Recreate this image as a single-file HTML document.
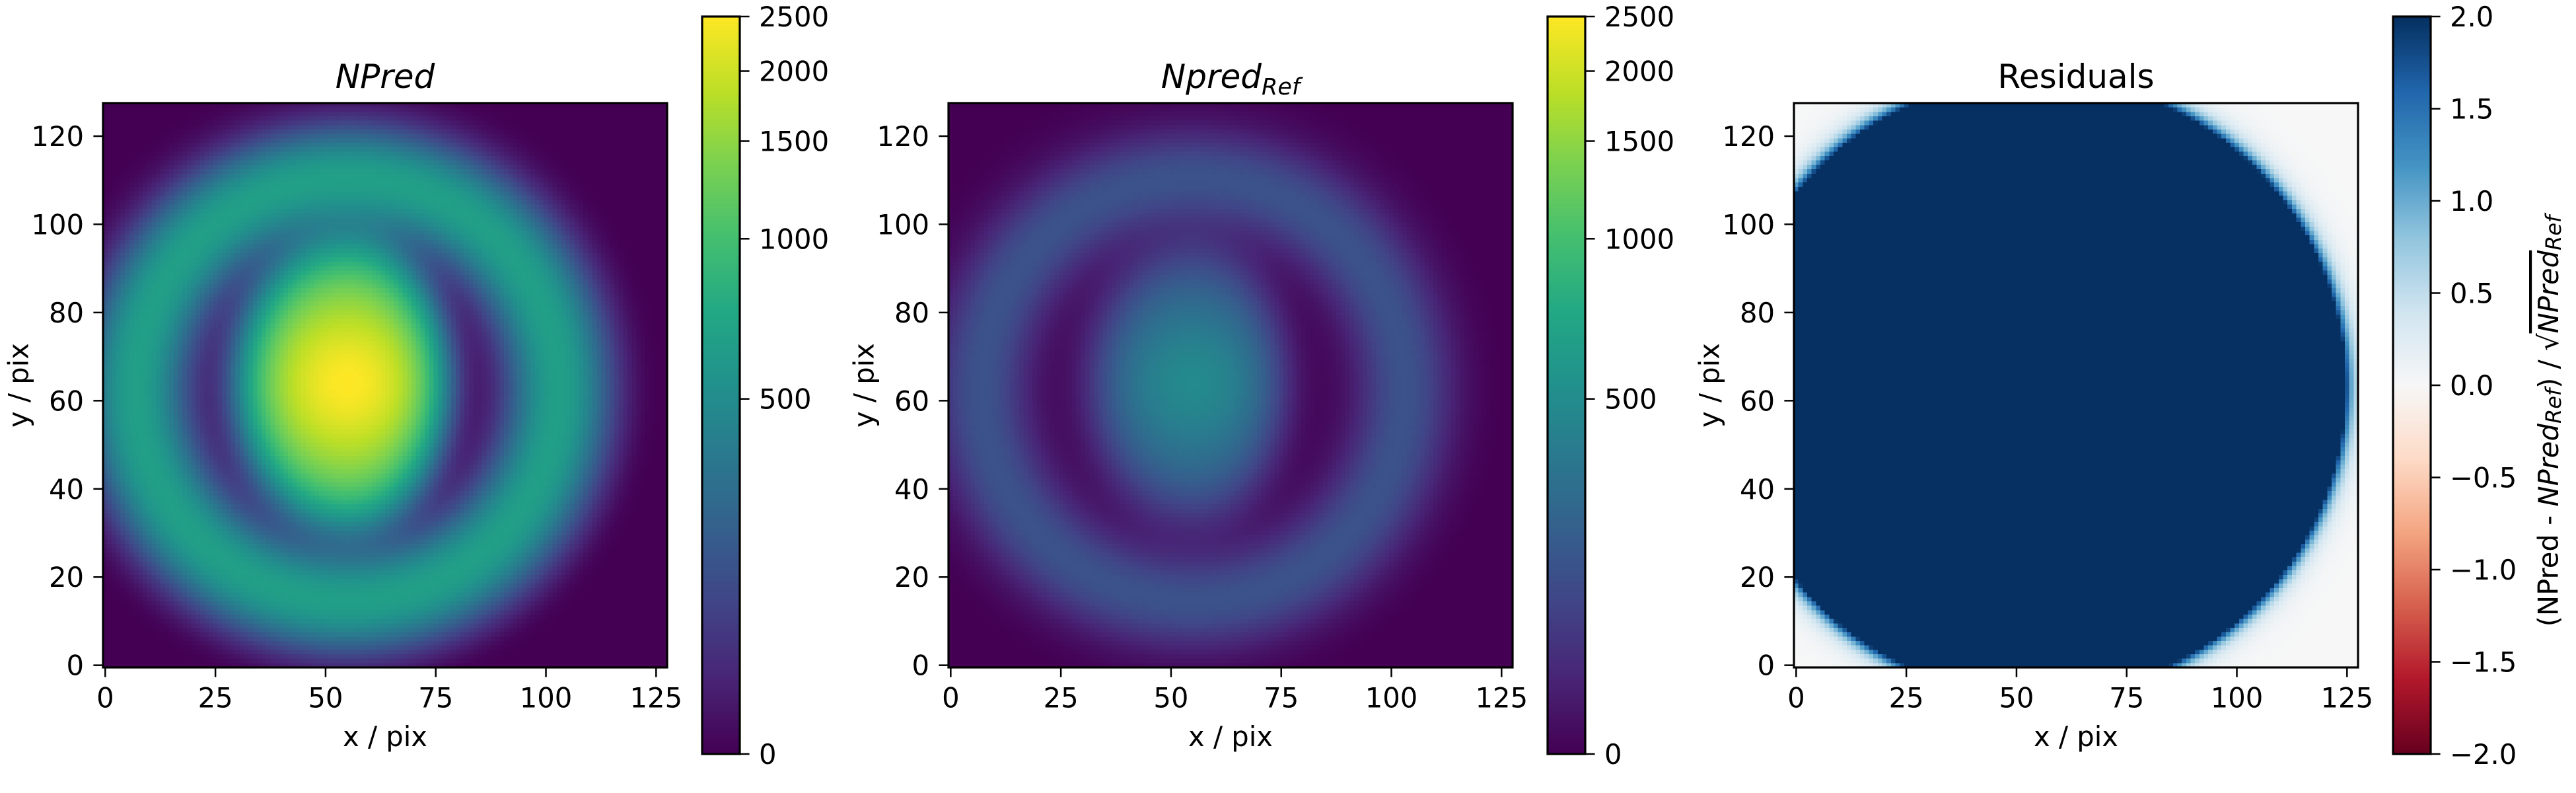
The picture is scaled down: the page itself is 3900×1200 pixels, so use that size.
<!DOCTYPE html>
<html><head><meta charset="utf-8">
<style>
html,body{margin:0;padding:0;background:#fff;}
#root{position:relative;width:3900px;height:1200px;overflow:hidden;font-family:"DejaVu Sans","Liberation Sans",sans-serif;}
canvas{position:absolute;image-rendering:pixelated;}
svg{position:absolute;left:0;top:0;}
</style></head>
<body>
<div id="root">
<canvas id="img1" width="128" height="128" style="left:156px;top:156px;width:854px;height:854px"></canvas>
<canvas id="img2" width="128" height="128" style="left:1436px;top:156px;width:854px;height:854px"></canvas>
<canvas id="img3" width="128" height="128" style="left:2716px;top:156px;width:854px;height:854px"></canvas>
<canvas id="cb1" width="1" height="512" style="left:1063px;top:25px;width:57px;height:1116px;image-rendering:auto"></canvas>
<canvas id="cb2" width="1" height="512" style="left:2343px;top:25px;width:57px;height:1116px;image-rendering:auto"></canvas>
<canvas id="cb3" width="1" height="512" style="left:3623px;top:25px;width:57px;height:1116px;image-rendering:auto"></canvas>
<svg id="ov" width="3900" height="1200" xmlns="http://www.w3.org/2000/svg"></svg>
</div>
<script>
// ---- data (model component parameters) ----
const gridSize = 128;
const componentNames = ['core-plateau', 'core-peak', 'ring', 'halo'];
const npredAmplitudes = [1600, 900, 640, 15];
const npredRefAmplitudes = [330, 150, 205, 4];
const componentCenterX = [55, 55, 55, 54.5];
const componentCenterY = [64, 64, 62.5, 63.5];
const coreScaleLeftRight = [19, 17];
const coreScaleY = [25];
const corePeakSigma = [9];
const ringRadiusWidth = [48, 7.5];
const haloSigma = [40];
const maskRadius = [68.5];
const viridisNormMax = [2500];
const residualRange = [-2, 2];
const xTickValues = [0, 25, 50, 75, 100, 125];
const yTickValues = [0, 20, 40, 60, 80, 100, 120];
const cbViridisTicks = [0, 500, 1000, 1500, 2000, 2500];
const cbResidualTicks = [-2, -1.5, -1, -0.5, 0, 0.5, 1, 1.5, 2];
const cbResidualLabels = ['\u22122.0','\u22121.5','\u22121.0','\u22120.5','0.0','0.5','1.0','1.5','2.0'];

const VIR = ['#440154','#482475','#414487','#355f8d','#2a788e','#21918c','#22a884','#44bf70','#7ad151','#bddf26','#fde725'];
const RDBU = ['#67001f','#b2182b','#d6604d','#f4a582','#fddbc7','#f7f7f7','#d1e5f0','#92c5de','#4393c3','#2166ac','#053061'];
function hex(h){return [parseInt(h.substr(1,2),16),parseInt(h.substr(3,2),16),parseInt(h.substr(5,2),16)];}
function cmap(stops,f){f=Math.max(0,Math.min(1,f));const n=stops.length-1;const p=f*n;const i=Math.min(n-1,Math.floor(p));const t=p-i;const a=hex(stops[i]),b=hex(stops[i+1]);return [a[0]+(b[0]-a[0])*t,a[1]+(b[1]-a[1])*t,a[2]+(b[2]-a[2])*t];}
function asinhNorm(v){return Math.asinh(10*v/viridisNormMax[0])/Math.asinh(10);}

function field(amps){
  const out=new Float64Array(gridSize*gridSize);
  for(let y=0;y<gridSize;y++)for(let x=0;x<gridSize;x++){
    const dx=x-componentCenterX[0],dy=y-componentCenterY[0];
    const sx=dx<0?coreScaleLeftRight[0]:coreScaleLeftRight[1];
    const q=Math.sqrt((dx/sx)**2+(dy/coreScaleY[0])**2);
    let v=amps[0]*Math.exp(-0.5*Math.pow(q,4));
    const px=x-componentCenterX[1],py=y-componentCenterY[1];
    v+=amps[1]*Math.exp(-0.5*(px*px+py*py)/(corePeakSigma[0]**2));
    const r1=Math.hypot(x-componentCenterX[2],y-componentCenterY[2]);
    const d=(r1-ringRadiusWidth[0])/ringRadiusWidth[1];
    v+=amps[2]*Math.exp(-0.5*d*d);
    const r2=Math.hypot(x-componentCenterX[3],y-componentCenterY[3]);
    v+=amps[3]*Math.exp(-0.5*(r2/haloSigma[0])**2);
    const env=1/(1+Math.exp((r2-maskRadius[0])/1.2));
    out[y*gridSize+x]=v*env;
  }
  return out;
}
const N=field(npredAmplitudes), R=field(npredRefAmplitudes);
function paint(id,fn){
  const c=document.getElementById(id),ctx=c.getContext('2d');const im=ctx.createImageData(gridSize,gridSize);
  for(let y=0;y<gridSize;y++)for(let x=0;x<gridSize;x++){
    const col=fn(x,y);const o=((gridSize-1-y)*gridSize+x)*4;
    im.data[o]=col[0];im.data[o+1]=col[1];im.data[o+2]=col[2];im.data[o+3]=255;}
  ctx.putImageData(im,0,0);
}
paint('img1',(x,y)=>cmap(VIR,asinhNorm(N[y*gridSize+x])));
paint('img2',(x,y)=>cmap(VIR,asinhNorm(R[y*gridSize+x])));
paint('img3',(x,y)=>{const i=y*gridSize+x;const rr=R[i];let res=rr>1e-9?(N[i]-rr)/Math.sqrt(rr):0;
  return cmap(RDBU,(res-residualRange[0])/(residualRange[1]-residualRange[0]));});
function paintCb(id,stops){const c=document.getElementById(id),ctx=c.getContext('2d');const im=ctx.createImageData(1,512);
  for(let j=0;j<512;j++){const col=cmap(stops,1-j/511);im.data[j*4]=col[0];im.data[j*4+1]=col[1];im.data[j*4+2]=col[2];im.data[j*4+3]=255;}
  ctx.putImageData(im,0,0);}
paintCb('cb1',VIR);paintCb('cb2',VIR);paintCb('cb3',RDBU);

// ---- axes ----
const NS='http://www.w3.org/2000/svg';const svg=document.getElementById('ov');
function el(tag,attrs,parent){const e=document.createElementNS(NS,tag);for(const k in attrs)e.setAttribute(k,attrs[k]);(parent||svg).appendChild(e);return e;}
const FS=41.7;
const AX=854, TOP=156, BOT=1010;
const panels=[{left:156,cb:1063},{left:1436,cb:2343},{left:2716,cb:3623}];
function xScale(p,v){return p.left+(v+0.5)*AX/gridSize;}
function yScale(v){return BOT-(v+0.5)*AX/gridSize;}
panels.forEach((p,pi)=>{
  const g=el('g',{});
  
  
  const fr=el('rect',{x:p.left,y:TOP,width:AX,height:AX,fill:'none',stroke:'#000','stroke-width':3.2},g);
  
  
  xTickValues.forEach(v=>{const x=xScale(p,v);
    const t=el('line',{x1:x,x2:x,y1:BOT,y2:BOT+14.6,stroke:'#000','stroke-width':2.5},g);
    
    
    const tx=el('text',{x:x,y:BOT+29+FS*0.76,'font-size':FS,'text-anchor':'middle'},g);tx.textContent=v;
    
    });
  yTickValues.forEach(v=>{const y=yScale(v);
    const t=el('line',{x1:p.left-14.6,x2:p.left,y1:y,y2:y,stroke:'#000','stroke-width':2.5},g);
    
    
    const tx=el('text',{x:p.left-29,y:y+FS*0.36,'font-size':FS,'text-anchor':'end'},g);tx.textContent=v;
    
    });
  const xl=el('text',{x:p.left+AX/2,y:1129,'font-size':FS,'text-anchor':'middle'},g);xl.textContent='x / pix';
  
  
  const yx=p.left-128, yc=TOP+AX/2;
  const yl=el('text',{x:yx,y:yc,'font-size':FS,'text-anchor':'middle','dominant-baseline':'central',transform:`rotate(-90 ${yx} ${yc})`},g);yl.textContent='y / pix';
  
  
  const cbf=el('rect',{x:p.cb,y:25,width:57,height:1116,fill:'none',stroke:'#000','stroke-width':3.2},g);
  
  
  const cbR=p.cb+57;
  const ticks=pi<2?cbViridisTicks:cbResidualTicks;
  ticks.forEach((v,i)=>{
    const f=pi<2?asinhNorm(v):(v-residualRange[0])/(residualRange[1]-residualRange[0]);
    const y=1141-f*1116;
    const t=el('line',{x1:cbR,x2:cbR+14.6,y1:y,y2:y,stroke:'#000','stroke-width':2.5},g);
    
    
    const tx=el('text',{x:cbR+29,y:y+FS*0.36,'font-size':FS},g);tx.textContent=pi<2?v:cbResidualLabels[i];
    
    });
});
const FT=50;
const t1=el('text',{x:583,y:133,'font-size':FT,'text-anchor':'middle','font-style':'italic'});t1.textContent='NPred';


const t2=el('text',{x:1863,y:133,'font-size':FT,'text-anchor':'middle','font-style':'italic'});


t2.innerHTML='Npred<tspan font-size="35" dy="10">Ref</tspan>';
const t3=el('text',{x:3143,y:133,'font-size':FT,'text-anchor':'middle'});t3.textContent='Residuals';


const lx=3858, ly=637;
const cl=el('text',{x:lx,y:ly,'font-size':FS,'text-anchor':'middle','dominant-baseline':'central',transform:`rotate(-90 ${lx} ${ly})`});


cl.innerHTML='(NPred - <tspan font-style="italic">NPred</tspan><tspan font-style="italic" font-size="32" dy="8">Ref</tspan><tspan dy="-8">) / \u221A</tspan><tspan font-style="italic" text-decoration="overline">NPred</tspan><tspan font-style="italic" font-size="32" dy="8">Ref</tspan>';
</script>
</body></html>
